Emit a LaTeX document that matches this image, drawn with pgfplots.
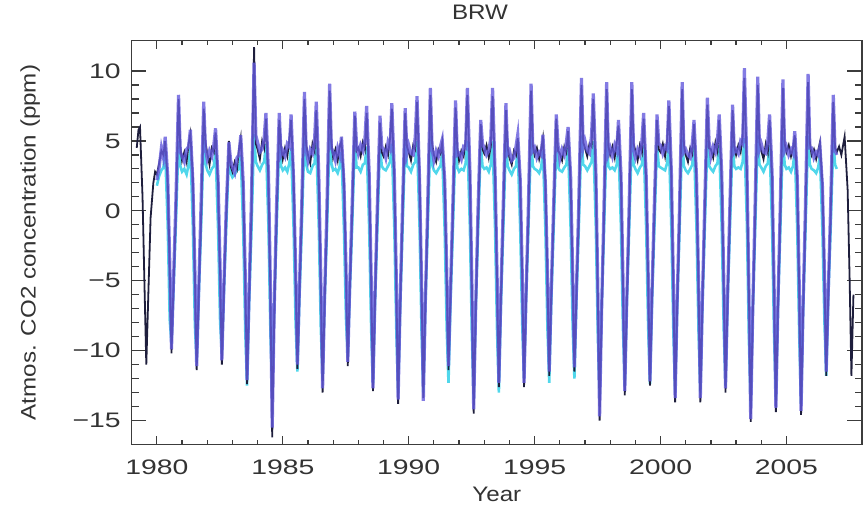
\documentclass[border=0pt]{standalone}
\usepackage{fontspec}
\setmainfont{Liberation Sans}
\newfontfamily\tickfont[FakeStretch=1.35]{Liberation Sans}
\newfontfamily\labfont[FakeStretch=1.15]{Liberation Sans}
\usepackage{pgfplots}
\usepackage{pgfplotstable}
\pgfplotsset{compat=1.18}
\definecolor{modblue}{RGB}{100,90,220}
\definecolor{modcyan}{RGB}{80,215,235}
\definecolor{obsblk}{RGB}{30,30,60}
\definecolor{axgray}{RGB}{60,60,60}

\pgfplotstableread{
t K B C
1979.20 4.5 nan nan
1979.27 5.8 nan nan
1979.33 6.0 nan nan
1979.43 1.0 nan nan
1979.51 -5.5 nan nan
1979.58 -11.0 nan nan
1979.66 -6.0 nan nan
1979.75 -0.5 nan nan
1979.86 2.0 nan nan
1979.93 2.8 nan nan
1980.00 2.6 2.2 1.8
1980.09 3.4 3.1 2.5
1980.18 4.3 4.5 2.9
1980.26 4.0 3.8 3.1
1980.33 5.0 5.3 4.2
1980.43 2.2 2.5 -1.0
1980.51 -4.0 -3.6 -7.8
1980.58 -10.2 -9.9 -9.5
1980.66 -5.4 -5.0 -5.6
1980.75 -0.3 0.4 -1.2
1980.86 8.0 8.3 5.0
1980.93 4.6 4.2 3.2
1981.00 3.6 3.9 2.8
1981.09 4.2 3.5 3.0
1981.18 3.5 4.4 2.6
1981.26 4.8 4.6 3.3
1981.33 5.5 5.8 4.5
1981.43 2.4 2.0 -1.2
1981.51 -4.6 -4.3 -8.2
1981.58 -11.4 -11.1 -10.8
1981.66 -6.0 -5.7 -6.2
1981.75 -0.8 0.2 -1.5
1981.86 7.3 7.8 5.2
1981.93 4.9 4.4 3.4
1982.00 4.1 3.7 2.9
1982.09 3.3 4.3 2.6
1982.18 4.5 3.9 3.0
1982.26 4.2 4.7 3.2
1982.33 5.6 5.9 4.3
1982.43 2.0 2.3 -1.3
1982.51 -4.4 -4.0 -7.9
1982.58 -11.0 -10.7 -10.2
1982.66 -5.8 -5.4 -5.9
1982.75 -0.6 0.0 -1.4
1982.86 5.0 4.9 4.0
1982.93 3.2 3.6 2.7
1983.00 2.8 3.1 2.4
1983.09 3.5 2.7 2.6
1983.18 3.0 3.8 2.9
1983.26 4.4 4.0 3.0
1983.33 5.2 5.4 4.0
1983.43 1.6 2.0 -1.5
1983.51 -5.0 -4.6 -8.6
1983.58 -12.4 -12.1 -12.5
1983.66 -6.4 -6.0 -6.8
1983.75 -0.5 0.5 -1.8
1983.86 11.7 10.6 5.5
1983.93 4.8 5.4 3.5
1984.00 4.4 4.9 3.2
1984.09 3.7 4.2 2.9
1984.18 5.0 4.4 3.3
1984.26 4.5 5.2 3.5
1984.33 6.6 7.0 4.8
1984.43 2.3 2.8 -1.1
1984.51 -6.0 -5.5 -8.8
1984.58 -16.2 -15.5 -13.0
1984.66 -7.5 -7.0 -6.8
1984.75 -0.7 0.3 -1.6
1984.86 6.5 7.0 5.0
1984.93 4.6 4.0 3.2
1985.00 3.7 4.3 2.9
1985.09 4.5 3.9 3.1
1985.18 3.9 4.8 2.8
1985.26 5.1 4.6 3.4
1985.33 6.5 6.9 4.5
1985.43 2.5 2.1 -1.3
1985.51 -4.5 -4.2 -8.1
1985.58 -11.3 -11.0 -11.5
1985.66 -5.9 -5.5 -6.3
1985.75 -0.4 0.3 -1.5
1985.86 8.0 8.5 5.3
1985.93 4.7 4.3 3.3
1986.00 4.0 3.6 2.8
1986.09 3.4 4.4 2.7
1986.18 4.8 4.1 3.2
1986.26 4.3 5.0 3.4
1986.33 7.2 7.8 4.9
1986.43 2.1 2.6 -1.2
1986.51 -5.2 -4.8 -8.4
1986.58 -13.0 -12.7 -12.0
1986.66 -6.6 -6.1 -6.5
1986.75 -0.9 0.1 -1.7
1986.86 8.6 9.1 5.5
1986.93 4.9 4.5 3.4
1987.00 3.8 4.2 2.9
1987.09 4.4 3.6 3.0
1987.18 3.6 4.5 2.7
1987.26 4.6 4.0 3.2
1987.33 5.0 5.3 4.2
1987.43 2.2 1.9 -1.4
1987.51 -4.3 -4.0 -7.7
1987.58 -11.1 -10.8 -10.5
1987.66 -5.6 -5.2 -5.8
1987.75 -0.5 0.2 -1.4
1987.86 6.8 7.1 5.0
1987.93 4.3 4.7 3.1
1988.00 4.5 4.1 3.1
1988.09 3.9 4.7 2.8
1988.18 4.9 4.3 3.3
1988.26 4.4 5.1 3.4
1988.33 7.0 7.5 4.6
1988.43 2.4 2.7 -1.2
1988.51 -5.1 -4.8 -8.5
1988.58 -12.9 -12.7 -12.3
1988.66 -6.5 -6.1 -6.7
1988.75 -0.6 0.1 -1.6
1988.86 6.3 6.8 4.8
1988.93 4.2 4.6 3.2
1989.00 3.9 4.4 3.0
1989.09 4.6 3.8 2.9
1989.18 4.0 4.9 3.2
1989.26 5.2 4.5 3.5
1989.33 7.3 7.7 4.8
1989.43 2.2 2.6 -1.3
1989.51 -5.4 -5.0 -8.7
1989.58 -13.8 -13.5 -13.0
1989.66 -6.9 -6.5 -7.0
1989.75 -0.8 0.0 -1.7
1989.86 7.0 7.35 5.0
1989.93 4.6 4.1 3.2
1990.00 4.2 4.7 3.1
1990.09 3.6 4.1 2.8
1990.18 4.7 4.0 3.3
1990.26 4.4 5.3 3.5
1990.33 7.8 8.2 5.0
1990.43 2.6 2.3 -1.1
1990.51 -5.3 -5.1 -8.6
1990.58 -13.4 -13.6 -13.0
1990.66 -6.7 -6.6 -6.9
1990.75 -0.7 0.2 -1.6
1990.86 8.3 8.8 5.3
1990.93 4.8 4.4 3.3
1991.00 4.0 3.6 2.9
1991.09 3.5 4.3 2.7
1991.18 4.4 3.9 3.0
1991.26 4.1 4.6 3.2
1991.33 4.9 5.1 4.2
1991.43 1.9 2.2 -1.5
1991.51 -4.6 -4.3 -8.5
1991.58 -11.4 -11.1 -12.3
1991.66 -5.9 -5.6 -6.6
1991.75 -0.5 0.3 -1.6
1991.86 7.4 7.9 5.0
1991.93 4.5 4.0 3.1
1992.00 3.6 4.1 2.8
1992.09 4.3 3.7 3.0
1992.18 3.9 4.6 2.9
1992.26 5.0 4.5 3.4
1992.33 8.3 8.8 5.0
1992.43 2.5 2.9 -1.2
1992.51 -5.6 -5.3 -9.0
1992.58 -14.5 -14.2 -13.5
1992.66 -7.2 -6.9 -7.1
1992.75 -0.9 0.0 -1.8
1992.86 6.2 6.5 4.8
1992.93 4.4 4.8 3.2
1993.00 4.1 4.5 3.0
1993.09 4.7 4.0 3.1
1993.18 3.8 4.3 2.8
1993.26 4.6 5.2 3.3
1993.33 8.2 8.8 5.0
1993.43 2.4 2.7 -1.3
1993.51 -4.9 -4.6 -8.7
1993.58 -12.6 -12.3 -13.0
1993.66 -6.3 -6.0 -6.8
1993.75 -0.6 0.2 -1.7
1993.86 7.2 7.7 5.0
1993.93 4.5 4.1 3.2
1994.00 3.8 4.3 2.9
1994.09 3.3 3.6 2.6
1994.18 4.3 3.8 3.0
1994.26 4.0 4.6 3.2
1994.33 5.2 5.45 4.3
1994.43 2.0 2.2 -1.4
1994.51 -4.9 -4.6 -8.2
1994.58 -12.6 -12.3 -12.0
1994.66 -6.3 -6.0 -6.3
1994.75 -0.6 0.2 -1.5
1994.86 8.6 9.1 5.3
1994.93 4.7 4.3 3.2
1995.00 4.0 4.5 3.0
1995.09 4.5 3.8 2.9
1995.18 3.7 4.2 2.7
1995.26 4.4 4.0 3.1
1995.33 5.2 5.45 4.3
1995.43 2.1 1.8 -1.5
1995.51 -4.7 -4.4 -8.4
1995.58 -11.8 -11.5 -12.3
1995.66 -6.0 -5.7 -6.6
1995.75 -0.6 0.1 -1.6
1995.86 6.6 6.9 4.8
1995.93 4.3 4.7 3.1
1996.00 4.1 3.7 2.9
1996.09 3.6 4.4 2.8
1996.18 4.6 4.0 3.1
1996.26 4.2 4.9 3.3
1996.33 5.7 6.0 4.5
1996.43 2.2 2.5 -1.3
1996.51 -4.6 -4.3 -8.2
1996.58 -11.5 -11.2 -12.0
1996.66 -5.9 -5.6 -6.4
1996.75 -0.5 0.3 -1.5
1996.86 9.0 9.5 5.4
1996.93 4.9 4.5 3.3
1997.00 4.5 5.0 3.2
1997.09 3.9 4.3 2.9
1997.18 4.8 4.1 3.2
1997.26 4.6 5.4 3.5
1997.33 8.0 8.4 5.0
1997.43 2.6 3.0 -1.1
1997.51 -5.8 -5.5 -8.9
1997.58 -15.0 -14.7 -13.5
1997.66 -7.4 -7.1 -7.0
1997.75 -0.9 0.0 -1.8
1997.86 8.7 9.2 5.3
1997.93 4.6 4.1 3.2
1998.00 4.0 4.5 3.0
1998.09 4.6 3.9 3.1
1998.18 3.8 4.7 2.9
1998.26 4.9 4.3 3.3
1998.33 6.1 6.5 4.6
1998.43 2.3 2.6 -1.3
1998.51 -5.2 -4.9 -8.5
1998.58 -13.2 -12.9 -12.5
1998.66 -6.6 -6.3 -6.6
1998.75 -0.7 0.1 -1.6
1998.86 8.7 9.2 5.3
1998.93 4.8 4.3 3.3
1999.00 4.3 3.8 3.0
1999.09 3.6 4.4 2.7
1999.18 4.7 4.0 3.1
1999.26 4.2 5.0 3.3
1999.33 6.6 7.0 4.7
1999.43 2.2 2.5 -1.3
1999.51 -4.9 -4.6 -8.4
1999.58 -12.5 -12.2 -12.4
1999.66 -6.2 -5.9 -6.6
1999.75 -0.6 0.2 -1.6
1999.86 6.5 6.9 4.8
1999.93 4.4 4.8 3.2
2000.00 4.2 4.7 3.1
2000.09 4.8 4.1 3.0
2000.18 3.9 4.6 2.9
2000.26 5.0 4.4 3.4
2000.33 7.5 7.9 4.9
2000.43 2.5 2.8 -1.2
2000.51 -5.4 -5.1 -8.7
2000.58 -13.7 -13.4 -13.0
2000.66 -6.8 -6.5 -6.9
2000.75 -0.8 0.0 -1.7
2000.86 8.7 9.2 5.3
2000.93 4.7 4.2 3.2
2001.00 4.0 4.4 2.9
2001.09 3.5 4.0 2.7
2001.18 4.5 3.8 3.0
2001.26 4.1 4.8 3.3
2001.33 6.2 6.5 4.6
2001.43 2.1 2.4 -1.4
2001.51 -5.4 -5.1 -8.7
2001.58 -13.7 -13.4 -13.0
2001.66 -6.8 -6.5 -6.9
2001.75 -0.7 0.1 -1.7
2001.86 7.6 8.1 5.0
2001.93 4.5 4.9 3.2
2002.00 4.4 3.9 3.0
2002.09 3.8 4.6 2.8
2002.18 4.9 4.2 3.2
2002.26 4.3 5.1 3.4
2002.33 6.5 6.9 4.7
2002.43 2.3 2.7 -1.2
2002.51 -5.1 -4.8 -8.5
2002.58 -13.0 -12.7 -12.5
2002.66 -6.5 -6.2 -6.6
2002.75 -0.6 0.1 -1.6
2002.86 7.2 7.6 5.0
2002.93 4.6 4.2 3.2
2003.00 4.0 4.4 3.0
2003.09 4.7 4.1 3.1
2003.18 4.2 5.0 3.0
2003.26 5.3 4.8 3.5
2003.33 9.5 10.2 5.2
2003.43 2.8 3.2 -1.0
2003.51 -6.0 -5.7 -9.3
2003.58 -15.1 -14.9 -14.0
2003.66 -7.6 -7.3 -7.3
2003.75 -1.0 0.0 -1.9
2003.86 9.0 9.6 5.4
2003.93 4.9 4.4 3.3
2004.00 4.3 4.8 3.1
2004.09 3.7 4.2 2.8
2004.18 4.8 4.1 3.2
2004.26 4.2 5.0 3.4
2004.33 6.5 6.9 4.7
2004.43 2.4 2.7 -1.2
2004.51 -5.7 -5.4 -9.0
2004.58 -14.4 -14.1 -13.5
2004.66 -7.1 -6.8 -7.1
2004.75 -0.8 0.0 -1.8
2004.86 8.8 9.4 5.3
2004.93 4.8 4.3 3.3
2005.00 4.2 4.6 3.0
2005.09 4.7 4.0 3.1
2005.18 3.9 4.4 2.8
2005.26 4.5 4.1 3.2
2005.33 5.4 5.7 4.4
2005.43 2.1 2.4 -1.4
2005.51 -5.8 -5.5 -9.1
2005.58 -14.6 -14.3 -13.8
2005.66 -7.2 -6.9 -7.2
2005.75 -0.9 0.0 -1.8
2005.86 9.2 9.8 5.4
2005.93 4.9 4.5 3.3
2006.00 4.0 4.5 3.0
2006.09 4.4 3.8 2.9
2006.18 3.7 4.2 2.7
2006.26 4.3 4.0 3.1
2006.33 4.9 4.6 4.0
2006.43 1.9 1.7 -1.5
2006.51 -4.7 -4.5 -8.0
2006.58 -11.8 -11.5 -11.8
2006.66 -6.0 -5.8 -6.2
2006.75 -0.6 0.0 -1.6
2006.86 7.8 8.3 5.0
2006.93 4.5 4.3 3.3
2007.00 4.2 4.0 3.0
2007.09 4.6 nan nan
2007.18 4.0 nan nan
2007.26 4.8 nan nan
2007.31 5.3 nan nan
2007.43 1.5 nan nan
2007.51 -5.0 nan nan
2007.58 -11.8 nan nan
2007.66 -6.0 nan nan
}\brw

\begin{document}
\begin{tikzpicture}
\begin{axis}[
  name=ax,
  scale only axis,
  width=365.15pt, height=201.8pt,
  xmin=1979, xmax=2008,
  ymin=-16.7, ymax=12.17,
  xtick={1980,1985,1990,1995,2000,2005},
  xticklabels={1980,1985,1990,1995,2000,2005},
  ytick={-15,-10,-5,0,5,10},
  yticklabels={−15,−10,−5,0,5,10},
  minor x tick num=4,
  minor y tick num=4,
  tick align=inside,
  axis line style={line width=0.8pt, axgray},
  every tick/.style={axgray, line width=0.6pt},
  xtick style={/pgfplots/major tick length=4pt, /pgfplots/minor tick length=2pt},
  ytick style={/pgfplots/major tick length=7.3pt, /pgfplots/minor tick length=3.6pt},
  tick label style={font=\tickfont\fontsize{10.5}{12}\selectfont, text=black!80},
  xticklabel style={yshift=-4pt},
  yticklabel style={xshift=-2pt},
  label style={font=\labfont\fontsize{10.5}{12}\selectfont, text=black!80},
  xlabel={Year},
  xlabel style={at={(axis description cs:0.5,-0.123)}, anchor=center},
  ylabel={Atmos. CO2 concentration (ppm)},
  ylabel style={at={(axis description cs:-0.139,0.5)}, anchor=center},
  title={BRW},
  every axis title shift=0pt,
  title style={at={(axis description cs:0.477,1.071)}, anchor=center, font=\labfont\fontsize{10.5}{12}\selectfont, text=black!80},
]
\addplot[modcyan, line width=1.3pt] table[x=t,y=C]{\brw};
\addplot[obsblk, line width=0.9pt] table[x=t,y=K]{\brw};
\addplot[modblue, line width=1.6pt, opacity=0.8] table[x=t,y=B]{\brw};
\end{axis}
\pgfresetboundingbox
\path[use as bounding box] ([xshift=-65.85pt,yshift=-32.35pt]ax.south west) rectangle ([xshift=2pt,yshift=20.35pt]ax.north east);
\end{tikzpicture}
\end{document}
